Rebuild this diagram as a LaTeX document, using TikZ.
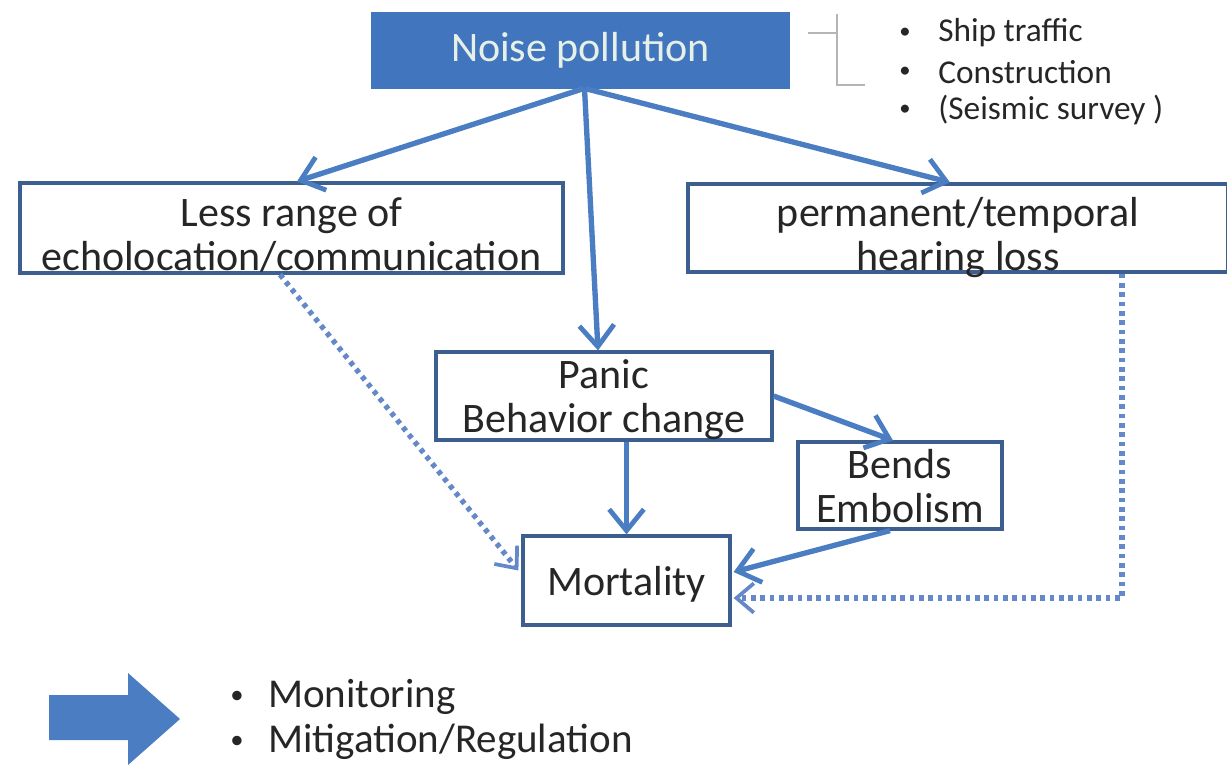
\documentclass[tikz,border=0pt]{standalone}
\usepackage{fontspec}
\setmainfont{Carlito}
\usetikzlibrary{arrows.meta,calc}
\definecolor{arrowblue}{HTML}{4A7DC2}
\definecolor{dotblue}{HTML}{6589C8}
\definecolor{boxline}{HTML}{3C5F8F}
\definecolor{noisefill}{HTML}{4176BE}
\definecolor{noisetext}{HTML}{E6F0E6}
\definecolor{bracegray}{HTML}{B5B5B5}
\newcommand\myLowStrut{\rule{0pt}{31pt}}
\begin{document}
\begin{tikzpicture}[x=0.75pt,y=-0.75pt,
  box/.style={draw=boxline,line width=2.4pt,fill=white,align=center,inner sep=0pt,
    font=\fontsize{31.5}{33}\selectfont,text=black!85,text depth=-3.5pt},
  flow/.style={draw=arrowblue,line width=4pt,
    -{Straight Barb[length=16pt,width=26pt,line width=3.6pt]}},
  dotflow/.style={draw=dotblue,line width=4pt,dash pattern=on 3.5pt off 3.5pt,
    -{Straight Barb[length=13pt,width=22pt,line width=2.8pt]}},
  listtext/.style={anchor=west,inner sep=0pt,font=\fontsize{25}{29}\selectfont,text=black!85},
  bigtext/.style={anchor=west,inner sep=0pt,font=\fontsize{30.75}{35}\selectfont,text=black!85},
  bul/.style={inner sep=0pt,text=black!85}
]
\useasboundingbox (0,0) rectangle (1227,765);
\clip (0,0) rectangle (1227,765);

% boxes
\node[box,fill=noisefill,draw=noisefill,text=noisetext,text depth=,minimum width=311.25pt,minimum height=54.75pt] (noise) at (580.5,50.5) {Noise pollution};
\node[box,minimum width=407.25pt,minimum height=67.5pt] (less) at (291.5,228) {\myLowStrut Less range of\\echolocation/communication};
\node[box,minimum width=405pt,minimum height=66pt] (hear) at (958,228) {\myLowStrut permanent/temporal\\hearing loss};
\node[box,minimum width=252pt,minimum height=66pt] (panic) at (604,396) {Panic\\Behavior change};
\node[box,minimum width=153pt,minimum height=65.25pt] (bends) at (900,485.5) {Bends\\Embolism};
\node[box,minimum width=155.25pt,minimum height=66.75pt] (mort) at (626.5,580.5) {Mortality};

% bracket
\coordinate (bt) at (837,14);
\coordinate (bb) at (837,85);
\coordinate (bk) at (808,33);
\coordinate (bm) at (837,33);
\coordinate (be) at (865,85);
\draw[bracegray,line width=1pt] (bt) -- (bb) -- (be);
\draw[bracegray,line width=1pt] (bk) -- (bm);

% source list
\node[bul,font=\fontsize{17}{20}\selectfont] (b1) at (905,33) {•};
\node[listtext] (l1) at (938,33) {Ship traffic};
\node[bul,font=\fontsize{17}{20}\selectfont] (b2) at (905,72) {•};
\node[listtext] (l2) at (938,72) {Construction};
\node[bul,font=\fontsize{17}{20}\selectfont] (b3) at (905,110) {•};
\node[listtext] (l3) at (938,110) {(Seismic survey )};

% solid arrows
\draw[flow] ($(noise.south)+(3,0)$) -- ($(less.north)+(5.5,0)$);
\draw[flow] ($(noise.south)+(4,0)$) -- ($(panic.north)+(-6,0)$);
\draw[flow] ($(noise.south)+(5,0)$) -- ($(hear.north)+(-8,0)$);
\draw[flow] (panic.east) -- ($(bends.north)+(-7,0)$);
\draw[flow] (panic.south -| mort.north) -- (mort.north);
\draw[flow] ($(bends.south)+(-10,0)$) -- ($(mort.east)+(2,-8.5)$);

% dotted arrows
\draw[dotflow] ($(less.south)+(-11.5,0)$) -- ($(mort.west)+(-3,-10)$);
\coordinate (hc) at ($(hear.south)+(164,0)$);
\coordinate (hd) at (1122,598);
\draw[dotflow] (hc) -- (hd) -- ($(mort.east)+(2,17.5)$);

% big arrow
\fill[arrowblue] (49,695) -- (128,695) -- (128,673) -- (180,719) -- (128,765) -- (128,740) -- (49,740) -- cycle;
\node[bul,font=\fontsize{20}{24}\selectfont] (m1) at (237,697) {•};
\node[bigtext] (t1) at (268,697) {Monitoring};
\node[bul,font=\fontsize{20}{24}\selectfont] (m2) at (237,742) {•};
\node[bigtext] (t2) at (268,742) {Mitigation/Regulation};
\end{tikzpicture}
\end{document}
